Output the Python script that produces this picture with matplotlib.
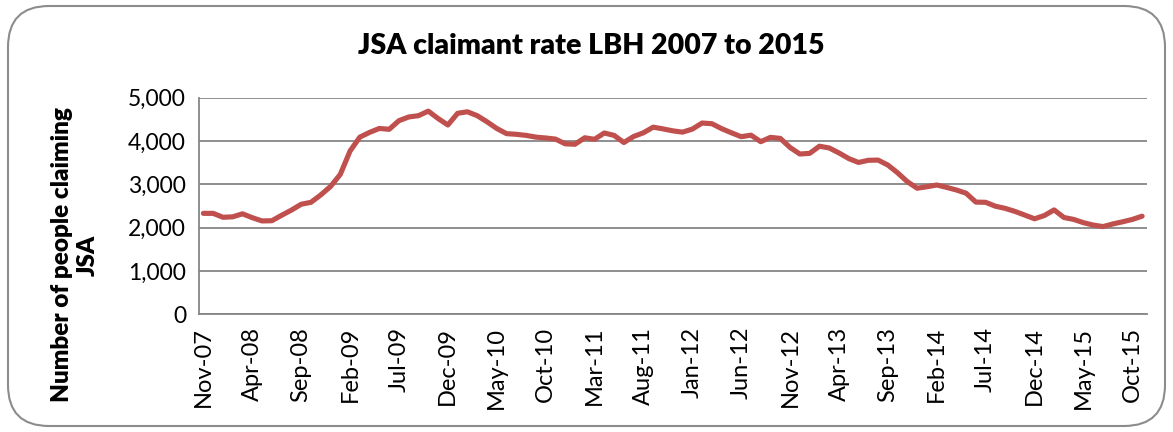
import matplotlib
matplotlib.use("Agg")
import matplotlib.pyplot as plt
from matplotlib.patches import FancyBboxPatch

# ---- data ----
claimants = [
    2330, 2330, 2240, 2250, 2320, 2230, 2155, 2160, 2285, 2405,   # Nov-07 .. Aug-08
    2540, 2585, 2755, 2950, 3230, 3770, 4090, 4200, 4290, 4270,   # Sep-08 .. Jun-09
    4470, 4555, 4585, 4690, 4520, 4370, 4640, 4675, 4585, 4445,   # Jul-09 .. Apr-10
    4290, 4170, 4155, 4130, 4090, 4070, 4045, 3935, 3925, 4075,   # May-10 .. Feb-11
    4040, 4185, 4130, 3965, 4105, 4190, 4320, 4280, 4235, 4205,   # Mar-11 .. Dec-11
    4275, 4415, 4400, 4285, 4190, 4100, 4135, 3985, 4085, 4060,   # Jan-12 .. Oct-12
    3850, 3700, 3715, 3880, 3840, 3725, 3595, 3505, 3555, 3560,   # Nov-12 .. Aug-13
    3445, 3265, 3060, 2910, 2945, 2985, 2930, 2870, 2795, 2590,   # Sep-13 .. Jun-14
    2585, 2495, 2445, 2375, 2290, 2205, 2280, 2410, 2235, 2190,   # Jul-14 .. Apr-15
    2115, 2060, 2025, 2085, 2135, 2190, 2265,                     # May-15 .. Nov-15
]
tick_labels = ["Nov-07", "Apr-08", "Sep-08", "Feb-09", "Jul-09", "Dec-09",
               "May-10", "Oct-10", "Mar-11", "Aug-11", "Jan-12", "Jun-12",
               "Nov-12", "Apr-13", "Sep-13", "Feb-14", "Jul-14", "Dec-14",
               "May-15", "Oct-15"]
label_step = 5
y_ticks = [0, 1000, 2000, 3000, 4000, 5000]
title = "JSA claimant rate LBH 2007 to 2015"
ylabel = "Number of people claiming\nJSA"

# ---- figure ----
plt.rcParams['font.family'] = ['Lato', 'DejaVu Sans']
W, H = 1173, 432
fig = plt.figure(figsize=(W / 100, H / 100), dpi=100)

# rounded outer border
border = FancyBboxPatch((8 / W, 6 / H), (W - 16) / W, (H - 12) / H,
                        boxstyle="round,pad=0,rounding_size=0.035",
                        transform=fig.transFigure, fill=False,
                        edgecolor="#8c8c8c", linewidth=1.5, mutation_aspect=W / H)
fig.patches.append(border)

left, right, top, bottom = 198.5, 1147, 97.7, 314.3
ax = fig.add_axes([left / W, 1 - bottom / H, (right - left) / W, (bottom - top) / H])

x = list(range(len(claimants)))
ax.plot(x, claimants, color="#C0504D", linewidth=3.7, solid_joinstyle="round",
        solid_capstyle="round", zorder=3)

ax.set_xlim(-0.5, len(claimants) - 0.5)
ax.set_ylim(0, 5000)
ax.set_yticks(y_ticks)
ax.set_yticklabels([f"{v:,}" for v in y_ticks], fontsize=16.5)
ax.set_xticks(list(range(0, label_step * len(tick_labels), label_step)))
ax.set_xticklabels(tick_labels, rotation=90, fontsize=17)
ax.tick_params(axis="both", length=0, pad=9, colors="black")
ax.tick_params(axis="x", pad=9)

ax.grid(axis="y", color="#868686", linewidth=1.3)
ax.set_axisbelow(True)
for s in ["top", "right"]:
    ax.spines[s].set_visible(False)
for s in ["left", "bottom"]:
    ax.spines[s].set_color("#868686")
    ax.spines[s].set_linewidth(1.3)

fig.text(591 / W, 1 - 46 / H, title, ha="center", va="center",
         fontsize=20.5, fontweight="heavy")
fig.text(75 / W, 1 - 255 / H, ylabel, ha="center", va="center", rotation=90,
         fontsize=17.5, fontweight="heavy", multialignment="center", linespacing=1.2)

fig.savefig("out.png", dpi=100)
